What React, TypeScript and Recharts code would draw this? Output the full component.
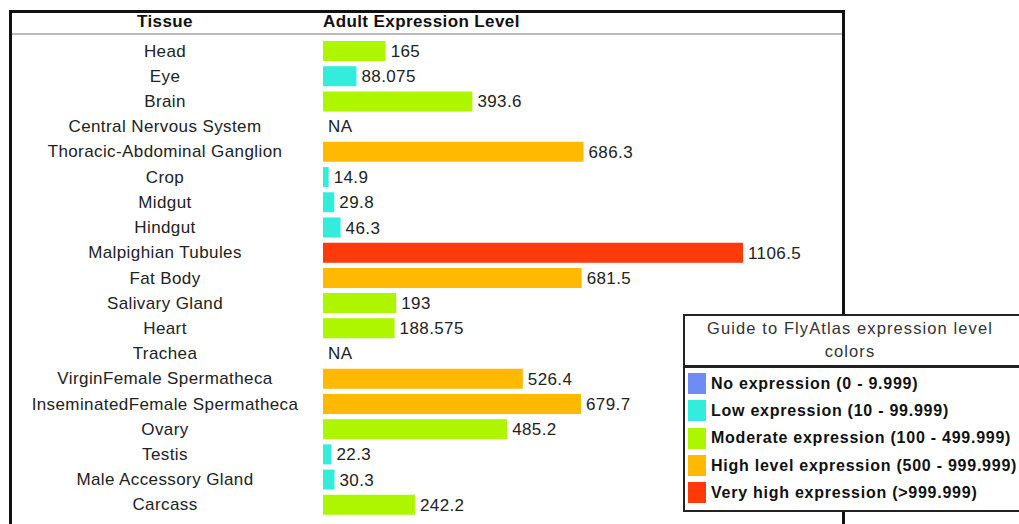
import { BarChart, Bar, XAxis, YAxis, Cell, LabelList } from 'recharts'

const TISSUES = [
  'Head', 'Eye', 'Brain', 'Central Nervous System', 'Thoracic-Abdominal Ganglion',
  'Crop', 'Midgut', 'Hindgut', 'Malpighian Tubules', 'Fat Body', 'Salivary Gland',
  'Heart', 'Trachea', 'VirginFemale Spermatheca', 'InseminatedFemale Spermatheca',
  'Ovary', 'Testis', 'Male Accessory Gland', 'Carcass'
]

const LEVELS: (number | null)[] = [
  165, 88.075, 393.6, null, 686.3,
  14.9, 29.8, 46.3, 1106.5, 681.5, 193,
  188.575, null, 526.4, 679.7,
  485.2, 22.3, 30.3, 242.2
]

const GUIDE = [
  { label: 'No expression (0 - 9.999)', color: '#6f8cf5', min: 0 },
  { label: 'Low expression (10 - 99.999)', color: '#33ecdc', min: 10 },
  { label: 'Moderate expression (100 - 499.999)', color: '#aef500', min: 100 },
  { label: 'High level expression (500 - 999.999)', color: '#ffba00', min: 500 },
  { label: 'Very high expression (>999.999)', color: '#ff3a0a', min: 1000 }
]

const data = TISSUES.map((t, i) => ({ tissue: t, level: LEVELS[i] }))

function colorFor(v: number | null) {
  if (v == null) return 'transparent'
  let c = GUIDE[0].color
  GUIDE.forEach(g => { if (v >= g.min) c = g.color })
  return c
}

const FONT = '"Liberation Sans", Arial, sans-serif'

function TissueTick(props: any) {
  const { y, payload } = props
  const row = data.find(d => d.tissue === payload.value)
  return (
    <g>
      <text x={165} y={y} dy={6} textAnchor="middle" fontSize={17} letterSpacing={0.4} fill="#222" fontFamily={FONT}>
        {payload.value}
      </text>
      {row && row.level == null && (
        <text x={328} y={y} dy={6} fontSize={17} letterSpacing={0.4} fill="#222" fontFamily={FONT}>NA</text>
      )}
    </g>
  )
}

export default function App() {
  return (
    <div style={{ position: 'absolute', left: 0, top: 0, width: 1019, height: 524, background: '#fff', overflow: 'hidden', fontFamily: FONT }}>
      <div style={{ position: 'absolute', left: 9, top: 10, width: 830, height: 540, border: '3px solid #111' }} />
      <div style={{ position: 'absolute', left: 12, top: 33, width: 830, height: 2, background: '#bbb' }} />
      <div style={{ position: 'absolute', left: 105, top: 12, width: 120, textAlign: 'center', fontWeight: 'bold', fontSize: 17, letterSpacing: 0.4, color: '#111' }}>Tissue</div>
      <div style={{ position: 'absolute', left: 323, top: 12, fontWeight: 'bold', fontSize: 17, letterSpacing: 0.4, color: '#111' }}>Adult Expression Level</div>
      <div style={{ position: 'absolute', left: 0, top: 0 }}>
        <BarChart width={1019} height={524} data={data} layout="vertical" margin={{ top: 38, right: 176, bottom: 7, left: 0 }}>
          <XAxis type="number" hide domain={[0, 1370]} />
          <YAxis type="category" dataKey="tissue" width={323} axisLine={false} tickLine={false} tick={TissueTick} interval={0} />
          <Bar dataKey="level" barSize={20} isAnimationActive={false}>
            {data.map((d, i) => (
              <Cell key={`cell-${i}`} fill={colorFor(d.level)} />
            ))}
            <LabelList dataKey="level" position="right" offset={5} fill="#222" fontSize={17} letterSpacing={0.4} fontFamily={FONT} />
          </Bar>
        </BarChart>
      </div>
      <div style={{ position: 'absolute', left: 683, top: 314, width: 340, height: 198, border: '2px solid #222', background: '#fff', boxSizing: 'border-box' }}>
        <div style={{ height: 48, borderBottom: '3px solid #222', textAlign: 'center', fontSize: 16.5, letterSpacing: 1.1, color: '#333', lineHeight: '23px', paddingTop: 1, paddingRight: 6 }}>
          Guide to FlyAtlas expression level<br />colors
        </div>
        <div style={{ paddingTop: 2 }}>
          {GUIDE.map((g, i) => (
            <div key={i} style={{ display: 'flex', alignItems: 'center', height: 27.3 }}>
              <div style={{ width: 18, height: 21, background: g.color, marginLeft: 3, marginRight: 5, flexShrink: 0 }} />
              <span style={{ fontWeight: 'bold', fontSize: 16, letterSpacing: 0.75, color: '#111', whiteSpace: 'nowrap' }}>{g.label}</span>
            </div>
          ))}
        </div>
      </div>
    </div>
  )
}
